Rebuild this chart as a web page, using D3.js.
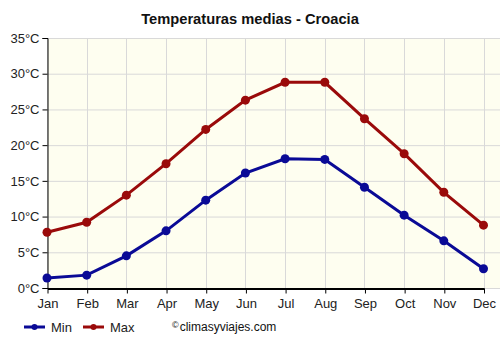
<!DOCTYPE html>
<html>
<head>
<meta charset="utf-8">
<script src="https://cdn.jsdelivr.net/npm/d3@7"></script>
<style>
  body { margin: 0; background: #fff; }
  text { font-family: "Liberation Sans", Arial, sans-serif; }
</style>
</head>
<body>
<div id="chart"></div>
<script>
// Data
const months = ["Jan", "Feb", "Mar", "Apr", "May", "Jun", "Jul", "Aug", "Sep", "Oct", "Nov", "Dec"];
const minTemps = [1.4, 1.8, 4.5, 8.0, 12.3, 16.1, 18.1, 18.0, 14.1, 10.2, 6.6, 2.7];
const maxTemps = [7.8, 9.2, 13.0, 17.4, 22.2, 26.3, 28.8, 28.8, 23.7, 18.8, 13.4, 8.8];
const yTicks = [0, 5, 10, 15, 20, 25, 30, 35];

const WIDTH = 500;
const HEIGHT = 350;
const margin = { top: 38, right: 0, bottom: 62, left: 47 };

const svg = d3.select("#chart")
	.append("svg")
	.attr("width", WIDTH)
	.attr("height", HEIGHT);

// Scales
const x = d3.scalePoint()
	.domain(months)
	.range([margin.left, 483.5]);

const y = d3.scaleLinear()
	.domain([0, 35])
	.range([HEIGHT - margin.bottom, margin.top]);

// Plot background
svg.append("rect")
	.attr("x", margin.left)
	.attr("y", margin.top)
	.attr("width", WIDTH - margin.right - margin.left)
	.attr("height", y(0) - margin.top)
	.attr("fill", "#fefef0");

// Grid lines
svg.append("g")
	.selectAll("line")
	.data(yTicks)
	.enter()
	.append("line")
	.attr("x1", margin.left)
	.attr("x2", WIDTH - margin.right)
	.attr("y1", (d) => y(d) + 0.5)
	.attr("y2", (d) => y(d) + 0.5)
	.attr("stroke", "#d9d9d9");

svg.append("g")
	.selectAll("line")
	.data(months)
	.enter()
	.append("line")
	.attr("x1", (d) => Math.round(x(d)) + 0.5)
	.attr("x2", (d) => Math.round(x(d)) + 0.5)
	.attr("y1", margin.top)
	.attr("y2", y(0))
	.attr("stroke", "#d9d9d9");

// Axes
const yAxis = svg.append("g")
	.attr("transform", `translate(${margin.left + 0.5},0)`)
	.call(d3.axisLeft(y).tickValues(yTicks).tickSize(5).tickFormat((d) => d + "°C"));
yAxis.select(".domain").attr("stroke", "#000");
yAxis.selectAll("text").attr("font-size", 13).attr("fill", "#222").attr("font-family", "Liberation Sans, Arial, sans-serif");

const xAxis = svg.append("g")
	.attr("transform", `translate(0.5,${y(0) + 0.5})`)
	.call(d3.axisBottom(x).tickSize(5).tickSizeOuter(0));
xAxis.select(".domain").attr("stroke", "#000").attr("stroke-width", 2);
xAxis.selectAll("text").attr("font-size", 13).attr("fill", "#222").attr("dy", "0.9em").attr("font-family", "Liberation Sans, Arial, sans-serif");

// Title
svg.append("text")
	.attr("x", 250)
	.attr("y", 24)
	.attr("text-anchor", "middle")
	.attr("font-size", 14.7)
	.attr("font-weight", "bold")
	.attr("fill", "#111")
	.text("Temperaturas medias - Croacia");

// Series
const series = [
	{ name: "Min", values: minTemps, color: "#0a0a96" },
	{ name: "Max", values: maxTemps, color: "#9a0a0a" }
];

const line = d3.line()
	.x((d, i) => x(months[i]))
	.y((d) => y(d));

series.forEach((s) => {
	svg.append("path")
		.datum(s.values)
		.attr("fill", "none")
		.attr("stroke", s.color)
		.attr("stroke-width", 3)
		.attr("d", line);

	svg.append("g")
		.selectAll("circle")
		.data(s.values)
		.enter()
		.append("circle")
		.attr("cx", (d, i) => x(months[i]))
		.attr("cy", (d) => y(d))
		.attr("r", 4.5)
		.attr("fill", s.color);
});

// Legend
const legend = svg.append("g").attr("transform", "translate(24,327)");
const legendItems = legend.selectAll("g")
	.data(series)
	.enter()
	.append("g")
	.attr("transform", (d, i) => `translate(${i * 59},0)`);

legendItems.append("line")
	.attr("x1", 0)
	.attr("x2", 21)
	.attr("stroke", (d) => d.color)
	.attr("stroke-width", 3);

legendItems.append("circle")
	.attr("cx", 10.5)
	.attr("r", 3)
	.attr("fill", (d) => d.color);

legendItems.append("text")
	.attr("x", 27)
	.attr("y", 4.5)
	.attr("font-size", 13)
	.attr("fill", "#222")
	.text((d) => d.name);

// Credit, with a small raised copyright sign
const credit = svg.append("text")
	.attr("x", 172)
	.attr("y", 331)
	.attr("font-size", 12)
	.attr("fill", "#111");
credit.append("tspan")
	.attr("font-size", 9)
	.attr("dy", -3)
	.text("©");
credit.append("tspan")
	.attr("dy", 3)
	.attr("dx", 1)
	.text("climasyviajes.com");
</script>
</body>
</html>
